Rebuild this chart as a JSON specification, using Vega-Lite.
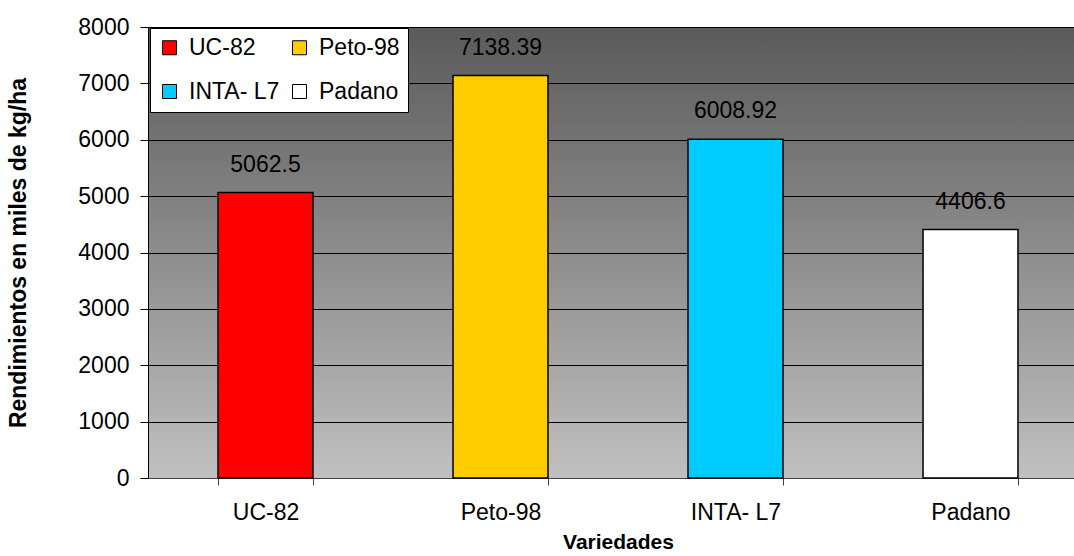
{
  "$schema": "https://vega.github.io/schema/vega-lite/v6.json",
  "autosize": "none",
  "padding": {"left": 148, "top": 27, "right": 0, "bottom": 78},
  "width": 926,
  "height": 451,
  "background": "white",
  "config": {
    "font": "Liberation Sans",
    "view": {
      "stroke": null,
      "fill": {"gradient": "linear", "x1": 0, "y1": 0, "x2": 0, "y2": 1, "stops": [{"offset": 0, "color": "#5a5a5a"}, {"offset": 1, "color": "#c0c0c0"}]}
    }
  },
  "data": {
    "values": [
      {"Variedad": "UC-82", "Rendimiento": 5062.5, "Etiqueta": "5062.5"},
      {"Variedad": "Peto-98", "Rendimiento": 7138.39, "Etiqueta": "7138.39"},
      {"Variedad": "INTA- L7", "Rendimiento": 6008.92, "Etiqueta": "6008.92"},
      {"Variedad": "Padano", "Rendimiento": 4406.6, "Etiqueta": "4406.6"}
    ]
  },
  "encoding": {
    "x": {
      "field": "Variedad",
      "type": "nominal",
      "sort": ["UC-82", "Peto-98", "INTA- L7", "Padano"],
      "scale": {"type": "band", "range": [0, 940], "paddingInner": 0.596, "paddingOuter": 0.298},
      "axis": {
        "title": "Variedades",
        "titleFontSize": 21,
        "titleFontWeight": "bold",
        "titleColor": "black",
        "titlePadding": 7,
        "labelAngle": 0,
        "labelFontSize": 23,
        "labelColor": "black",
        "labelPadding": 16,
        "tickBand": "extent",
        "tickSize": 7,
        "tickColor": "#404040",
        "domainColor": "#404040",
        "grid": false
      }
    },
    "y": {
      "field": "Rendimiento",
      "type": "quantitative",
      "scale": {"domain": [0, 8000], "nice": false},
      "axis": {
        "title": "Rendimientos en miles de kg/ha",
        "titleFontSize": 23,
        "titleFontWeight": "bold",
        "titleColor": "black",
        "titlePadding": 47,
        "values": [0, 1000, 2000, 3000, 4000, 5000, 6000, 7000, 8000],
        "format": "d",
        "labelFontSize": 23,
        "labelColor": "black",
        "labelPadding": 11,
        "tickSize": 8,
        "tickColor": "black",
        "domainColor": "black",
        "grid": true,
        "gridColor": "black",
        "gridWidth": 1,
        "gridOpacity": 1
      }
    }
  },
  "layer": [
    {
      "mark": {"type": "bar", "stroke": "black", "strokeWidth": 1.5},
      "encoding": {
        "color": {
          "field": "Variedad",
          "type": "nominal",
          "sort": ["UC-82", "Peto-98", "INTA- L7", "Padano"],
          "scale": {"domain": ["UC-82", "Peto-98", "INTA- L7", "Padano"], "range": ["#ff0000", "#ffcc00", "#00ccff", "#ffffff"]},
          "legend": {
            "title": null,
            "orient": "none",
            "legendX": 2,
            "legendY": 1,
            "columns": 2,
            "direction": "horizontal",
            "fillColor": "white",
            "strokeColor": "black",
            "padding": 8,
            "symbolType": "square",
            "symbolSize": 196,
            "symbolStrokeColor": "black",
            "symbolStrokeWidth": 1,
            "symbolOpacity": 1,
            "labelFontSize": 23,
            "labelColor": "black",
            "labelOffset": 8,
            "columnPadding": 8,
            "rowPadding": 20
          }
        }
      }
    },
    {
      "mark": {"type": "text", "baseline": "bottom", "dy": -16, "fontSize": 23, "color": "black"},
      "encoding": {
        "text": {"field": "Etiqueta", "type": "nominal"}
      }
    }
  ]
}
